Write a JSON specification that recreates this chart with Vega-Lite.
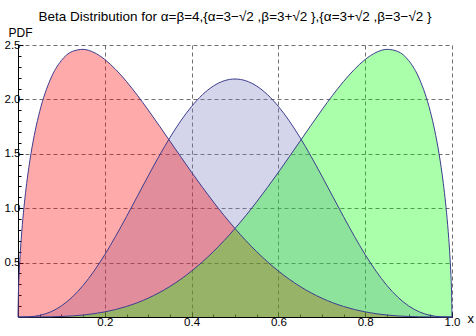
{
  "$schema": "https://vega.github.io/schema/vega-lite/v6.json",
  "width": 434,
  "height": 272,
  "autosize": {"type": "none"},
  "padding": {"left": 18, "top": 45, "right": 24, "bottom": 19},
  "background": "white",
  "title": {
    "text": "Beta Distribution for α=β=4,{α=3−√2 ,β=3+√2 },{α=3+√2 ,β=3−√2 }",
    "frame": "group", "anchor": "middle", "offset": 7, "dy": 15, "baseline": "alphabetic",
    "font": "Liberation Sans", "fontSize": 13.5, "fontWeight": "normal", "color": "black"
  },
  "config": {"view": {"stroke": null}},
  "datasets": {
    "blue": [
      {"x": 0, "pdf": 0}, {"x": 0.025, "pdf": 0.002}, {"x": 0.05, "pdf": 0.015}, {"x": 0.075, "pdf": 0.0467},
      {"x": 0.1, "pdf": 0.1021}, {"x": 0.125, "pdf": 0.1832}, {"x": 0.15, "pdf": 0.2902}, {"x": 0.175, "pdf": 0.4213},
      {"x": 0.2, "pdf": 0.5734}, {"x": 0.225, "pdf": 0.7423}, {"x": 0.25, "pdf": 0.9229}, {"x": 0.275, "pdf": 1.1095},
      {"x": 0.3, "pdf": 1.2965}, {"x": 0.325, "pdf": 1.4781}, {"x": 0.35, "pdf": 1.6484}, {"x": 0.375, "pdf": 1.8025},
      {"x": 0.4, "pdf": 1.9354}, {"x": 0.425, "pdf": 2.0431}, {"x": 0.45, "pdf": 2.1225}, {"x": 0.475, "pdf": 2.1711},
      {"x": 0.5, "pdf": 2.1875}, {"x": 0.525, "pdf": 2.1711}, {"x": 0.55, "pdf": 2.1225}, {"x": 0.575, "pdf": 2.0431},
      {"x": 0.6, "pdf": 1.9354}, {"x": 0.625, "pdf": 1.8025}, {"x": 0.65, "pdf": 1.6484}, {"x": 0.675, "pdf": 1.4781},
      {"x": 0.7, "pdf": 1.2965}, {"x": 0.725, "pdf": 1.1095}, {"x": 0.75, "pdf": 0.9229}, {"x": 0.775, "pdf": 0.7423},
      {"x": 0.8, "pdf": 0.5734}, {"x": 0.825, "pdf": 0.4213}, {"x": 0.85, "pdf": 0.2902}, {"x": 0.875, "pdf": 0.1832},
      {"x": 0.9, "pdf": 0.1021}, {"x": 0.925, "pdf": 0.0467}, {"x": 0.95, "pdf": 0.015}, {"x": 0.975, "pdf": 0.002},
      {"x": 1, "pdf": 0}
    ],
    "red": [
      {"x": 0, "pdf": 0}, {"x": 0.001, "pdf": 0.2268}, {"x": 0.0025, "pdf": 0.386}, {"x": 0.005, "pdf": 0.5743},
      {"x": 0.0075, "pdf": 0.7221}, {"x": 0.01, "pdf": 0.8475}, {"x": 0.015, "pdf": 1.056}, {"x": 0.02, "pdf": 1.2284},
      {"x": 0.03, "pdf": 1.5043}, {"x": 0.04, "pdf": 1.7182}, {"x": 0.05, "pdf": 1.8894}, {"x": 0.075, "pdf": 2.1875},
      {"x": 0.1, "pdf": 2.3578}, {"x": 0.125, "pdf": 2.4406}, {"x": 0.15, "pdf": 2.4598}, {"x": 0.175, "pdf": 2.4314},
      {"x": 0.2, "pdf": 2.367}, {"x": 0.225, "pdf": 2.2755}, {"x": 0.25, "pdf": 2.164}, {"x": 0.275, "pdf": 2.0382},
      {"x": 0.3, "pdf": 1.9026}, {"x": 0.325, "pdf": 1.7611}, {"x": 0.35, "pdf": 1.6169}, {"x": 0.375, "pdf": 1.4726},
      {"x": 0.4, "pdf": 1.3303}, {"x": 0.425, "pdf": 1.192}, {"x": 0.45, "pdf": 1.059}, {"x": 0.475, "pdf": 0.9326},
      {"x": 0.5, "pdf": 0.8136}, {"x": 0.525, "pdf": 0.7027}, {"x": 0.55, "pdf": 0.6004}, {"x": 0.575, "pdf": 0.5069},
      {"x": 0.6, "pdf": 0.4226}, {"x": 0.625, "pdf": 0.3472}, {"x": 0.65, "pdf": 0.2807}, {"x": 0.675, "pdf": 0.2228},
      {"x": 0.7, "pdf": 0.1732}, {"x": 0.725, "pdf": 0.1314}, {"x": 0.75, "pdf": 0.0968}, {"x": 0.775, "pdf": 0.0689},
      {"x": 0.8, "pdf": 0.0469}, {"x": 0.825, "pdf": 0.0303}, {"x": 0.85, "pdf": 0.0182}, {"x": 0.875, "pdf": 0.0099},
      {"x": 0.9, "pdf": 0.0047}, {"x": 0.925, "pdf": 0.0018}, {"x": 0.95, "pdf": 0.0005}, {"x": 0.975, "pdf": 0.0},
      {"x": 1, "pdf": 0}
    ],
    "green": [
      {"x": 0, "pdf": 0}, {"x": 0.025, "pdf": 0.0}, {"x": 0.05, "pdf": 0.0005}, {"x": 0.075, "pdf": 0.0018},
      {"x": 0.1, "pdf": 0.0047}, {"x": 0.125, "pdf": 0.0099}, {"x": 0.15, "pdf": 0.0182}, {"x": 0.175, "pdf": 0.0303},
      {"x": 0.2, "pdf": 0.0469}, {"x": 0.225, "pdf": 0.0689}, {"x": 0.25, "pdf": 0.0968}, {"x": 0.275, "pdf": 0.1314},
      {"x": 0.3, "pdf": 0.1732}, {"x": 0.325, "pdf": 0.2228}, {"x": 0.35, "pdf": 0.2807}, {"x": 0.375, "pdf": 0.3472},
      {"x": 0.4, "pdf": 0.4226}, {"x": 0.425, "pdf": 0.5069}, {"x": 0.45, "pdf": 0.6004}, {"x": 0.475, "pdf": 0.7027},
      {"x": 0.5, "pdf": 0.8136}, {"x": 0.525, "pdf": 0.9326}, {"x": 0.55, "pdf": 1.059}, {"x": 0.575, "pdf": 1.192},
      {"x": 0.6, "pdf": 1.3303}, {"x": 0.625, "pdf": 1.4726}, {"x": 0.65, "pdf": 1.6169}, {"x": 0.675, "pdf": 1.7611},
      {"x": 0.7, "pdf": 1.9026}, {"x": 0.725, "pdf": 2.0382}, {"x": 0.75, "pdf": 2.164}, {"x": 0.775, "pdf": 2.2755},
      {"x": 0.8, "pdf": 2.367}, {"x": 0.825, "pdf": 2.4314}, {"x": 0.85, "pdf": 2.4598}, {"x": 0.875, "pdf": 2.4406},
      {"x": 0.9, "pdf": 2.3578}, {"x": 0.925, "pdf": 2.1875}, {"x": 0.95, "pdf": 1.8894}, {"x": 0.96, "pdf": 1.7182},
      {"x": 0.97, "pdf": 1.5043}, {"x": 0.98, "pdf": 1.2284}, {"x": 0.985, "pdf": 1.056}, {"x": 0.99, "pdf": 0.8475},
      {"x": 0.9925, "pdf": 0.7221}, {"x": 0.995, "pdf": 0.5743}, {"x": 0.9975, "pdf": 0.386}, {"x": 0.999, "pdf": 0.2268},
      {"x": 1, "pdf": 0}
    ]
  },
  "encoding": {
    "x": {
      "field": "x", "type": "quantitative",
      "scale": {"domain": [0, 1], "nice": false, "zero": false},
      "axis": {
        "values": [0.05, 0.1, 0.15, 0.2, 0.25, 0.3, 0.35, 0.4, 0.45, 0.5, 0.55, 0.6, 0.65, 0.7, 0.75, 0.8, 0.85, 0.9, 0.95, 1.0],
        "labelExpr": "abs(datum.value*5-round(datum.value*5))<0.001 ? format(datum.value,'.1f') : ''",
        "tickSize": {"condition": {"test": "abs(datum.value*5-round(datum.value*5))<0.001", "value": -5}, "value": -3},
        "gridOpacity": {"condition": {"test": "abs(datum.value*5-round(datum.value*5))<0.001", "value": 1}, "value": 0},
        "grid": true, "gridDash": [4, 3], "gridColor": "#707070", "gridWidth": 1,
        "domainColor": "black", "tickColor": "black", "domainWidth": 1, "tickWidth": 1,
        "labelFont": "Liberation Sans", "labelFontSize": 11.5, "labelColor": "black", "labelPadding": 4,
        "labelFlush": false, "labelOverlap": false,
        "title": "x", "titleX": 449, "titleY": 1, "titleAlign": "left", "titleBaseline": "middle",
        "titleFont": "Liberation Sans", "titleFontSize": 13, "titleFontWeight": "normal", "titleColor": "black"
      }
    },
    "y": {
      "field": "pdf", "type": "quantitative",
      "scale": {"domain": [0, 2.5], "nice": false},
      "axis": {
        "values": [0.1, 0.2, 0.3, 0.4, 0.5, 0.6, 0.7, 0.8, 0.9, 1.0, 1.1, 1.2, 1.3, 1.4, 1.5, 1.6, 1.7, 1.8, 1.9, 2.0, 2.1, 2.2, 2.3, 2.4, 2.5],
        "labelExpr": "abs(datum.value*2-round(datum.value*2))<0.001 ? format(datum.value,'.1f') : ''",
        "tickSize": {"condition": {"test": "abs(datum.value*2-round(datum.value*2))<0.001", "value": -5}, "value": -3},
        "gridOpacity": {"condition": {"test": "abs(datum.value*2-round(datum.value*2))<0.001", "value": 1}, "value": 0},
        "grid": true, "gridDash": [4, 3], "gridColor": "#707070", "gridWidth": 1,
        "domainColor": "black", "tickColor": "black", "domainWidth": 1, "tickWidth": 1,
        "labelFont": "Liberation Sans", "labelFontSize": 11.5, "labelColor": "black", "labelPadding": 3,
        "labelFlush": false, "labelOverlap": false,
        "title": "PDF", "titleAngle": 0, "titleX": -10, "titleY": -9, "titleAlign": "left", "titleBaseline": "alphabetic",
        "titleFont": "Liberation Sans", "titleFontSize": 12, "titleFontWeight": "normal", "titleColor": "black"
      }
    }
  },
  "layer": [
    {"data": {"name": "blue"}, "mark": {"type": "area", "color": "#7f7fbf", "opacity": 0.333, "interpolate": "monotone"}},
    {"data": {"name": "red"}, "mark": {"type": "area", "color": "#ff0000", "opacity": 0.333, "interpolate": "monotone"}},
    {"data": {"name": "green"}, "mark": {"type": "area", "color": "#00ff00", "opacity": 0.333, "interpolate": "monotone"}},
    {"data": {"name": "blue"}, "mark": {"type": "line", "color": "#3d3d8f", "strokeWidth": 1, "interpolate": "monotone"}},
    {"data": {"name": "red"}, "mark": {"type": "line", "color": "#3d3d8f", "strokeWidth": 1, "interpolate": "monotone"}},
    {"data": {"name": "green"}, "mark": {"type": "line", "color": "#3d3d8f", "strokeWidth": 1, "interpolate": "monotone"}}
  ]
}
